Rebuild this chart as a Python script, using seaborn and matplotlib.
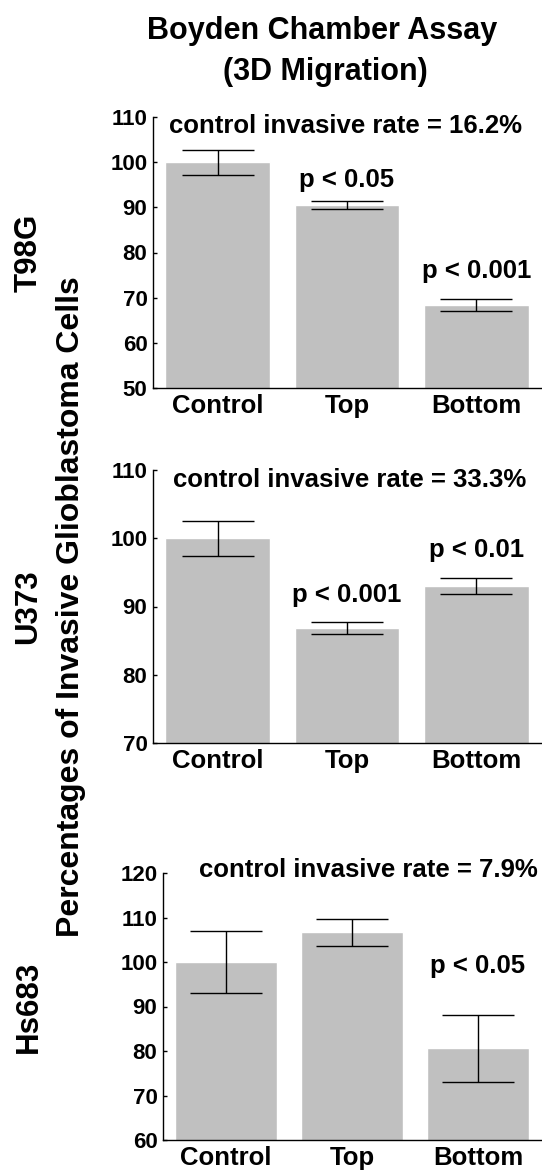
import matplotlib
matplotlib.use("Agg")
import matplotlib.pyplot as plt
import numpy as np
import seaborn as sns

# data
categories = ["Control", "Top", "Bottom"]
cell_lines = ["T98G", "U373", "Hs683"]

t98g_mean = [100.0, 90.5, 68.4]
t98g_err = [2.8, 0.8, 1.4]
u373_mean = [100.0, 86.9, 93.0]
u373_err = [2.6, 0.9, 1.2]
hs683_mean = [100.0, 106.7, 80.6]
hs683_err = [7.0, 3.0, 7.5]

control_rates = ["16.2%", "33.3%", "7.9%"]
p_labels = [
    [None, "p < 0.05", "p < 0.001"],
    [None, "p < 0.001", "p < 0.01"],
    [None, None, "p < 0.05"],
]
p_label_y = [
    [None, 94.5, 74.3],
    [None, 90.6, 97.2],
    [None, None, 97.5],
]
rate_label_pos = [(0.99, 106.5), (1.02, 107.5), (1.13, 119.1)]
y_ranges = [(50, 110), (70, 110), (60, 120)]

means = [t98g_mean, u373_mean, hs683_mean]
errs = [t98g_err, u373_err, hs683_err]

sns.set_style("ticks")
plt.rcParams["font.family"] = ["Liberation Sans", "DejaVu Sans"]
plt.rcParams["font.weight"] = "bold"
for key in ["text.color", "axes.labelcolor", "xtick.color", "ytick.color",
            "axes.edgecolor"]:
    plt.rcParams[key] = "black"

W, H = 542, 1174
fig = plt.figure(figsize=(W / 100, H / 100), dpi=100)

# axes boxes in pixels: left, top, right, bottom
boxes = [(153, 117, 541, 388), (153, 470, 541, 743), (163, 873, 541, 1140)]

bar_color = "#c0c0c0"

for i, (l, t, r, b) in enumerate(boxes):
    ax = fig.add_axes([l / W, 1 - b / H, (r - l) / W, (b - t) / H])
    sns.barplot(x=categories, y=means[i], color=bar_color, width=0.81,
                saturation=1, ax=ax)
    ax.errorbar(np.arange(len(categories)), means[i], yerr=errs[i],
                fmt="none", ecolor="black", elinewidth=1.0, capsize=26,
                capthick=1.0)
    lo, hi = y_ranges[i]
    ax.set_ylim(lo, hi)
    ax.set_yticks(np.arange(lo, hi + 1, 10))
    ax.set_xlim(-0.5, 2.5)
    ax.set_xlabel("")
    ax.set_ylabel("")
    for s in ["top", "right"]:
        ax.spines[s].set_visible(False)
    for s in ["left", "bottom"]:
        ax.spines[s].set_linewidth(1.0)
        ax.spines[s].set_color("black")
    ax.tick_params(axis="x", direction="in", length=3, width=1.0,
                   labelsize=18.5, pad=4, colors="black")
    ax.tick_params(axis="y", direction="in", length=3, width=1.0,
                   labelsize=16, pad=4, colors="black")
    for lab in ax.get_xticklabels() + ax.get_yticklabels():
        lab.set_fontweight("bold")

    rx, ry = rate_label_pos[i]
    ax.text(rx, ry, f"control invasive rate = {control_rates[i]}",
            ha="center", va="baseline", fontsize=18.5, fontweight="bold")
    for j, txt in enumerate(p_labels[i]):
        if txt:
            ax.text(j, p_label_y[i][j], txt, ha="center", va="baseline",
                    fontsize=18.5, fontweight="bold")

    # cell line label on the far left
    fig.text(28.5 / W, 1 - (t + b) / 2 / H, cell_lines[i], rotation=90,
             ha="center", va="center", fontsize=22.5, fontweight="bold")

fig.text(71 / W, 1 - 607 / H, "Percentages of Invasive Glioblastoma Cells",
         rotation=90, ha="center", va="center", fontsize=23, fontweight="bold")

fig.text(322 / W, 1 - 39 / H, "Boyden Chamber Assay", ha="center",
         va="baseline", fontsize=22, fontweight="bold")
fig.text(325 / W, 1 - 80 / H, "(3D Migration)", ha="center",
         va="baseline", fontsize=22, fontweight="bold")

fig.savefig("out.png", dpi=100)
